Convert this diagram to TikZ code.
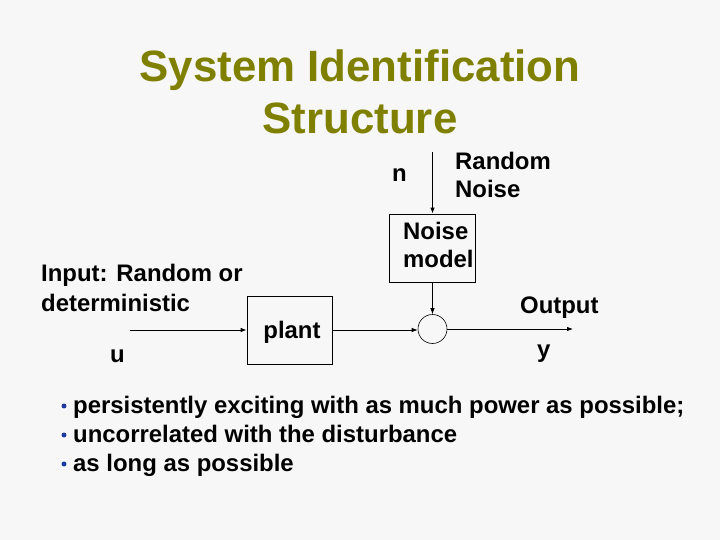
\documentclass[tikz,border=0pt]{standalone}
\usepackage{fontspec}
\setmainfont{Liberation Sans}
\usetikzlibrary{arrows.meta}
\definecolor{bgcol}{RGB}{247,247,247}
\definecolor{titlecol}{RGB}{128,128,0}
\definecolor{bulletcol}{RGB}{30,60,160}
\tikzset{
  lbl/.style={anchor=base west, inner sep=0pt, font=\fontsize{24}{29}\selectfont\bfseries},
  ttl/.style={anchor=base, inner sep=0pt, text=titlecol, font=\fontsize{44}{52}\selectfont\bfseries},
  blockbox/.style={draw, line width=0.8pt, fill=bgcol, inner sep=0pt},
  conn/.style={-{Latex[length=6pt,width=4.5pt]}, line width=0.8pt},
  bul/.style={circle, fill=bulletcol, inner sep=0pt, minimum size=5pt}
}
\begin{document}
\begin{tikzpicture}[x=1bp,y=-1bp]
\fill[bgcol] (0,0) rectangle (720,540);
\useasboundingbox (0,0) rectangle (720,540);
% title
\node[ttl] (t1) at (360,82) {System Identification};
\node[ttl] (t2) at (360,134) {Structure};
% blocks
\node[blockbox, minimum width=85bp, minimum height=68bp] (plant) at (289.5,330) {};
\node[lbl, anchor=base] (plantlbl) at (292,338) {plant};
\node[blockbox, minimum width=86bp, minimum height=68bp] (noise) at (432.5,248) {};
\node[lbl] (noiselbl1) at (403,240) {Noise};
\node[lbl] (noiselbl2) at (403,268) {model};
\node[draw, circle, line width=0.6pt, minimum size=29bp, inner sep=0pt] (sum) at (432.5,329) {};
% free ends
\coordinate (uin) at (130,330);
\coordinate (nin) at (432.5,152);
\coordinate (yout) at (573,329);
% connectors
\draw[conn] (uin) -- (plant.west);
\draw[conn] (plant.east) -- (plant.east -| sum.west);
\draw[conn] (nin) -- (noise.north);
\draw[conn] (noise.south) -- (sum.north);
\draw[conn] (sum.east) -- (yout);
% labels
\node[lbl] (inlbl1) at (41,282) {Input: Random or};
\node[lbl] (inlbl2) at (41,311) {deterministic};
\node[lbl] (ulbl) at (110,362) {u};
\node[lbl] (nlbl) at (392,182) {n};
\node[lbl] (rn1) at (455,170) {Random};
\node[lbl] (rn2) at (455,198) {Noise};
\node[lbl] (outlbl) at (520,313) {Output};
\node[lbl] (ylbl) at (537,357) {y};
% bullets
\node[bul] (b1) at (64,406) {};
\node[lbl] (l1) at (73,413) {persistently exciting with as much power as possible;};
\node[bul] (b2) at (64,435) {};
\node[lbl] (l2) at (73,442) {uncorrelated with the disturbance};
\node[bul] (b3) at (64,464) {};
\node[lbl] (l3) at (73,471) {as long as possible};
\end{tikzpicture}
\end{document}
